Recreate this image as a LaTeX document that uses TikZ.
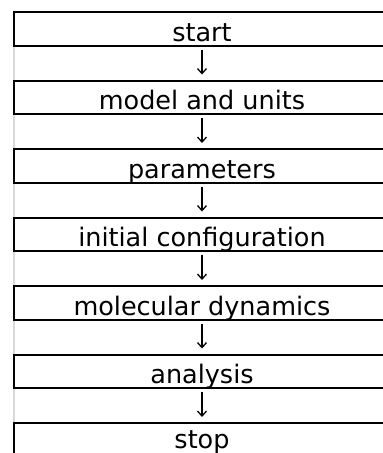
\documentclass[tikz,border=0pt]{standalone}
\usepackage{fontspec}
\setmainfont{DejaVu Sans}
\usetikzlibrary{arrows.meta}
\begin{document}
\begin{tikzpicture}[x=1pt,y=-1pt,
  cellbox/.style={draw=black,line width=2pt,rectangle,minimum width=376pt,
    inner xsep=0pt,inner ysep=0pt,text height=29pt,text depth=4.5pt,anchor=north,
    font=\fontsize{25.5}{30}\selectfont},
  arr/.style={line width=1.3pt,-{Straight Barb[length=5pt,width=9pt,line width=1.3pt]},
    shorten <=3pt,shorten >=5pt}]
\useasboundingbox (0,0) rectangle (383,453);
\draw[line width=1.6pt,black!15] (13.8,11) -- (13.8,453);
\node[cellbox] (b1) at (202,11) {start};
\node[cellbox] (b2) at (202,79.5) {model and units};
\node[cellbox] (b3) at (202,148) {parameters};
\node[cellbox] (b4) at (202,216.5) {initial configuration};
\node[cellbox] (b5) at (202,285) {molecular dynamics};
\node[cellbox] (b6) at (202,353.5) {analysis};
\node[cellbox,text height=25pt,text depth=8.5pt] (b7) at (202,422) {stop};
\foreach \a/\b in {b1/b2,b2/b3,b3/b4,b4/b5,b5/b6,b6/b7}
  \draw[arr] (\a.south) -- (\b.north);
\end{tikzpicture}
\end{document}
